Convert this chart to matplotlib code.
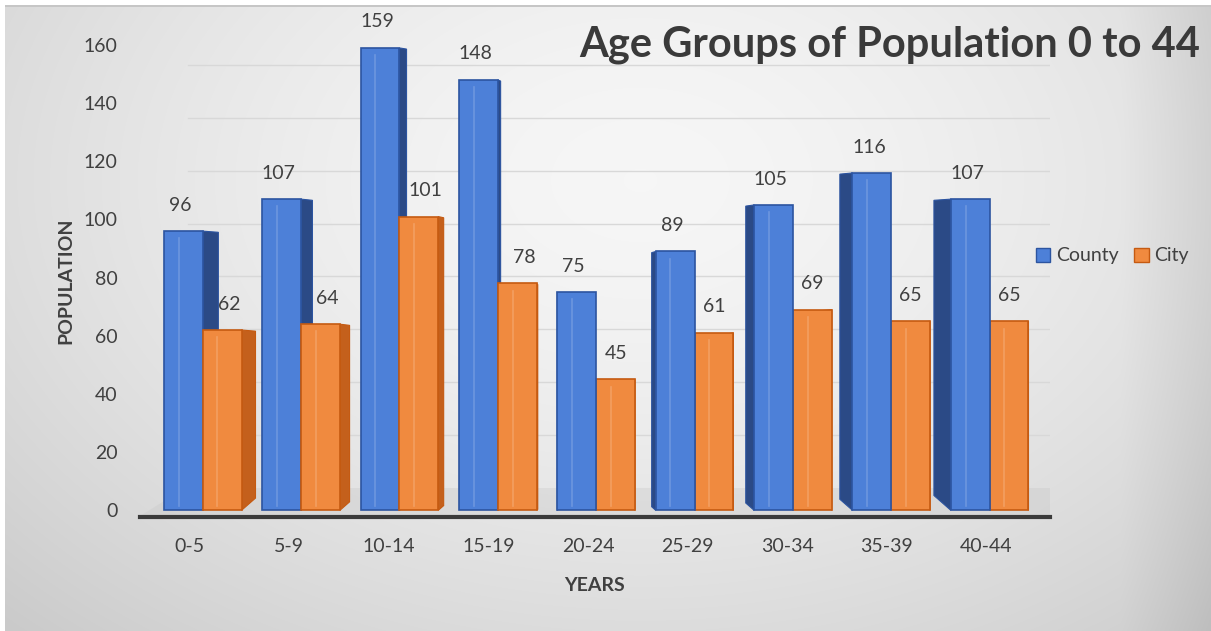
import numpy as np
import matplotlib.pyplot as plt

# age groups and population counts
age_groups = ['0-5', '5-9', '10-14', '15-19', '20-24', '25-29', '30-34', '35-39', '40-44']
county = [96, 107, 159, 148, 75, 89, 105, 116, 107]
city = [62, 64, 101, 78, 45, 61, 69, 65, 65]

title = 'Age Groups of Population 0 to 44'
series_names = ['County', 'City']

plt.rcParams['font.family'] = ['Lato', 'DejaVu Sans']
text_color = '#404040'

fig = plt.figure(figsize=(12.11, 6.31), dpi=100)

# grey gradient backdrop
bg = fig.add_axes([0, 0, 1, 1], zorder=-5)
H, W = 631, 1211
yy, xx = np.mgrid[0:H, 0:W]
r = np.sqrt(((xx - 640) / 900.0) ** 2 + ((yy - 180) / 620.0) ** 2)
shade = 0.965 - 0.17 * np.clip(r, 0, 1) ** 1.6
shade -= 0.06 * np.clip((xx - 1120) / 90.0, 0, 1)
img = np.dstack([shade, shade, shade])
img[:5, :, :] = 1.0
img[:, :5, :] = 1.0
img[5:7, 5:, :] = 0.78
bg.imshow(img, aspect='auto', extent=[0, W, H, 0])
bg.set_xlim(0, W)
bg.set_ylim(H, 0)
bg.axis('off')

ax = fig.add_axes([140 / W, (H - 517) / H, 910 / W, 472 / H])
ax.patch.set_alpha(0)
ax.set_xlim(-0.5, 8.64)
ax.set_ylim(-2.3, 160)

x = np.arange(len(age_groups))
w = 0.39
vanish = 3.74     # horizontal vanishing point for the 3-D sides
depth = 0.0435
lift = 30.0       # how much the back edge of a side face rises

blue_front, blue_edge, blue_side = '#4d80d8', '#2c54a0', '#2b4a86'
orange_front, orange_edge, orange_side = '#f08a3f', '#c55a11', '#c4601c'

# back wall gridlines and floor
for v in range(20, 161, 20):
    gy = 7.6 + 0.91 * v
    ax.plot([-0.02, 8.64], [gy, gy], color='#d8d8d8', lw=1.0, zorder=0)
ax.fill([-0.5, 8.64, 8.64, -0.05], [-2.0, -2.0, 7.6, 7.6], color='#c8c8c8', alpha=0.35, zorder=0, lw=0)


def draw_bar(x0, h, front, edge, side, left_side_visible):
    xr = x0 + w
    if left_side_visible:
        xe = x0
    else:
        xe = xr
    d = depth * (vanish - xe)
    dy = abs(d) * lift
    ax.fill([xe, xe + d, xe + d, xe], [0, dy, h - 0.4, h], color=side, ec=edge, lw=0.8, zorder=2)
    ax.bar(x0, h, width=w, align='edge', color=front, edgecolor=edge, lw=1.2, zorder=3)
    # soft bevel highlight on the face
    ax.plot([x0 + w * 0.38, x0 + w * 0.38], [1.5, h - 2.5], color='white', alpha=0.18, lw=1.2, zorder=4)


for i in range(len(age_groups)):
    c = x[i] + 0.13 - 0.012 * x[i]
    left_side = c > vanish
    if left_side:
        draw_bar(c, city[i], orange_front, orange_edge, orange_side, False)
        draw_bar(c - w, county[i], blue_front, blue_edge, blue_side, True)
    else:
        draw_bar(c - w, county[i], blue_front, blue_edge, blue_side, False)
        draw_bar(c, city[i], orange_front, orange_edge, orange_side, False)
    ax.text(c - w / 2 - 0.03, county[i] + 6, str(county[i]), ha='center', va='bottom',
            fontsize=14, color=text_color, clip_on=False)
    side_shift = 0.07 if not left_side else 0.0
    ax.text(c + w / 2 + side_shift, city[i] + 6, str(city[i]), ha='center', va='bottom',
            fontsize=14, color=text_color, clip_on=False)

for s in ['top', 'right', 'left']:
    ax.spines[s].set_visible(False)
ax.spines['bottom'].set_color('#3a3a3a')
ax.spines['bottom'].set_linewidth(3)
ax.spines['bottom'].set_zorder(5)

ax.set_yticks(range(0, 161, 20))
ax.set_xticks(x)
ax.set_xticklabels(age_groups)
ax.tick_params(axis='both', length=0, labelsize=14, colors=text_color)
ax.tick_params(axis='y', pad=16)
ax.tick_params(axis='x', pad=15)

ax.set_ylabel('POPULATION', fontsize=14, fontweight='bold', color=text_color, labelpad=7)
ax.set_xlabel('YEARS', fontsize=14, fontweight='bold', color=text_color, labelpad=16)

fig.text(1200 / W, 1 - 45 / H, title, ha='right', va='center', fontsize=30,
         fontweight='bold', color='#3a3a3a')

# legend
handles = [plt.Rectangle((0, 0), 1, 1, fc=blue_front, ec=blue_edge),
           plt.Rectangle((0, 0), 1, 1, fc=orange_front, ec=orange_edge)]
fig.legend(handles, series_names, loc='center left', bbox_to_anchor=(1018 / W, 1 - 256 / H),
           ncol=2, frameon=False, fontsize=14, handlelength=0.75, handleheight=0.75,
           handletextpad=0.3, columnspacing=0.8, labelcolor=text_color)

fig.savefig('out.png', dpi=100)
